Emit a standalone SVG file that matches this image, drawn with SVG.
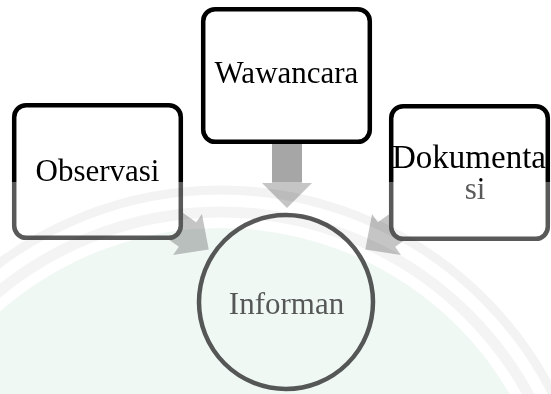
<svg xmlns="http://www.w3.org/2000/svg" width="551" height="394" viewBox="0 0 551 394">
  <style>
    .box { fill: #ffffff; stroke: #000000; stroke-width: 4.5; }
    .lbl { font-family: "Liberation Serif", "Times New Roman", serif; font-size: 31px; fill: #000000; }
    .arrow { fill: #a6a6a6; }
    .ring { fill: none; stroke: #e4e4e4; mix-blend-mode: multiply; }
  </style>

  <rect x="0" y="0" width="551" height="394" fill="#ffffff"/>

  <!-- block arrows feeding the central circle -->
  <g id="connectors">
    <polygon class="arrow" points="272,130 302,130 302,183 312,183 287,208 262,183 272,183"/>
    <g transform="translate(187.5,234.5) rotate(35.3)">
      <polygon class="arrow" points="-60,-15 0,-15 0,-25 26,0 0,25 0,15 -60,15"/>
    </g>
    <g transform="translate(386.5,234.5) rotate(144.7)">
      <polygon class="arrow" points="-60,-15 0,-15 0,-25 26,0 0,25 0,15 -60,15"/>
    </g>
  </g>

  <g id="observasi">
    <rect class="box" x="14.2" y="105.2" width="166.6" height="132.6" rx="12"/>
    <text class="lbl" x="97.5" y="181" text-anchor="middle">Observasi</text>
  </g>

  <g id="wawancara">
    <rect class="box" x="203.2" y="9.2" width="166.6" height="132.6" rx="12"/>
    <text class="lbl" x="286.5" y="83" text-anchor="middle">Wawancara</text>
  </g>

  <g id="dokumentasi">
    <rect class="box" x="391.2" y="106.2" width="156.6" height="132.6" rx="12"/>
    <text class="lbl" x="392" y="168" style="font-size:33px">Dokumenta</text>
    <text class="lbl" x="475" y="199" text-anchor="middle">si</text>
  </g>

  <g id="informan">
    <circle cx="286" cy="302" r="87" fill="#ffffff" stroke="#000000" stroke-width="4.5"/>
    <text class="lbl" x="286.5" y="314" text-anchor="middle">Informan</text>
  </g>

  <!-- pale seal printed over the lower part of the page -->
  <g id="seal">
    <rect x="0" y="182" width="551" height="212" fill="#ffffff" opacity="0.35"/>
    <circle cx="221" cy="562" r="334" fill="#f0f8f4" style="mix-blend-mode: multiply"/>
    <circle class="ring" cx="221" cy="562" r="372" stroke-width="9" opacity="0.45"/>
    <circle class="ring" cx="221" cy="562" r="350" stroke-width="11" opacity="0.4"/>
  </g>
</svg>
